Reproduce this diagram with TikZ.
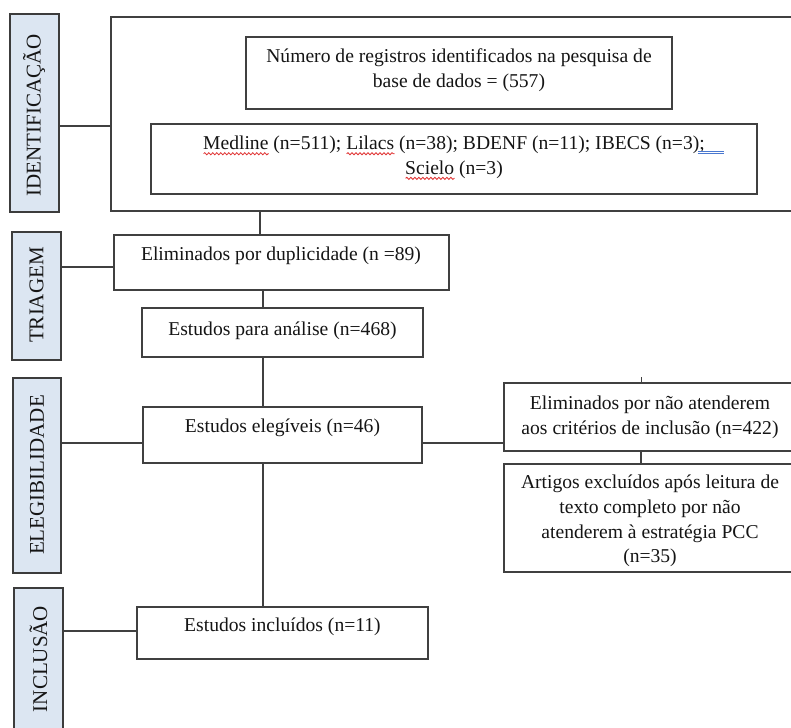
\documentclass[tikz,border=0pt]{standalone}
\usepackage{fontspec}
\setmainfont{Liberation Serif}
\usetikzlibrary{decorations.pathmorphing}
\definecolor{boxgray}{HTML}{404040}
\definecolor{labgray}{HTML}{3C3C3C}
\definecolor{labblue}{HTML}{DCE6F2}
\definecolor{linegray}{HTML}{404040}
\definecolor{ink}{HTML}{151515}
\definecolor{spellred}{HTML}{E03030}
\definecolor{gramblue}{HTML}{4A78D0}
\newsavebox\wavebox
\newcommand\spellwave[1]{\sbox\wavebox{#1}\leavevmode\rlap{\tikz[baseline=0pt]\draw[spellred,line width=0.8pt,decorate,decoration={snake,amplitude=1.1pt,segment length=4pt}] (0pt,-4pt) -- (\the\wd\wavebox,-4pt);}\usebox\wavebox}
\newcommand\grammark{\rlap{\kern-7pt\textcolor{gramblue}{\raisebox{-4.5pt}{\vbox{\hrule width 26pt height 0.8pt\kern1.2pt\hrule width 26pt height 0.8pt}}}}}
\begin{document}
\begin{tikzpicture}[x=1pt,y=-1pt,
  box/.style={draw=boxgray, line width=1.4pt, fill=white, inner sep=0pt},
  stage/.style={draw=labgray, line width=1.4pt, fill=labblue, inner sep=0pt},
  txt/.style={font=\fontsize{19.6}{24.6}\selectfont, text=ink, align=center, inner sep=0pt},
  stagetxt/.style={font=\fontsize{21}{25}\selectfont, text=ink, rotate=90, inner sep=0pt},
  link/.style={draw=linegray, line width=1.4pt}]
\useasboundingbox (0,0) rectangle (791,727);
\clip (0,0) rectangle (791,727);

% stage labels
\node[stage, minimum width=49pt, minimum height=198pt] (idlab) at (34.5,113) {};
\node[stage, minimum width=49pt, minimum height=128pt] (trilab) at (36.5,296) {};
\node[stage, minimum width=48pt, minimum height=195pt] (eleglab) at (37,475.5) {};
\node[stage, minimum width=49pt, minimum height=147pt] (inclab) at (38.5,661.5) {};
\node[stagetxt] (idtxt) at (34,115.5) {IDENTIFICAÇÃO};
\node[stagetxt] (tritxt) at (36.5,295) {TRIAGEM};
\node[stagetxt] (elegtxt) at (37,475) {ELEGIBILIDADE};
\node[stagetxt] (inctxt) at (38.5,659) {INCLUSÃO};

% boxes
\node[box, minimum width=689pt, minimum height=194pt] (outer) at (455.5,114) {};
\node[box, minimum width=426pt, minimum height=72pt] (b1) at (459,73) {};
\node[box, minimum width=606pt, minimum height=70pt] (b2) at (454,159) {};
\node[box, minimum width=335pt, minimum height=55pt] (elim) at (281.5,262.5) {};
\node[box, minimum width=281pt, minimum height=49pt] (analise) at (282.5,332.5) {};
\node[box, minimum width=279pt, minimum height=56pt] (eleg) at (282.5,435) {};
\node[box, minimum width=293pt, minimum height=68pt] (excl1) at (650.5,417) {};
\node[box, minimum width=293pt, minimum height=108pt] (excl2) at (650.5,518) {};
\node[box, minimum width=291pt, minimum height=52pt] (incl) at (282.5,633) {};

% texts
\node[txt] (t1) at (459,70) {Número de registros identificados na pesquisa de\\ base de dados = (557)};
\node[txt] (t2) at (454,158) {\spellwave{Medline} (n=511); \spellwave{Lilacs} (n=38); BDENF (n=11); IBECS (n=3);\grammark\\ \spellwave{Scielo} (n=3)};
\node[txt] (telim) at (281,256) {Eliminados por duplicidade (n =89)};
\node[txt] (tanal) at (282.5,331) {Estudos para análise (n=468)};
\node[txt] (telev) at (282.5,428) {Estudos elegíveis (n=46)};
\node[txt] (tex1) at (650,417) {Eliminados por não atenderem\\ aos critérios de inclusão (n=422)};
\node[txt] (tex2) at (650,521) {Artigos excluídos após leitura de\\ texto completo por não\\ atenderem à estratégia PCC\\ (n=35)};
\node[txt] (tinc) at (282.5,627) {Estudos incluídos (n=11)};

% helper coordinates
\coordinate (trunkA) at (260,0);
\coordinate (trunkB) at (263,0);
\coordinate (tickx) at (641,0);
\coordinate (ticktop) at (641,377);
\path ([yshift=-13pt]idlab.east) coordinate (c1);
\path ([yshift=29pt]trilab.east) coordinate (c2);
\path ([yshift=32.5pt]eleglab.east) coordinate (c3);
\path ([yshift=-8pt]eleg.east) coordinate (c4);
\path ([yshift=30.5pt]inclab.east) coordinate (c5);

% connectors
\draw[link] (c1) -- (c1 -| outer.west);
\draw[link] (outer.south -| trunkA) -- (elim.north -| trunkA);
\draw[link] (c2) -- (c2 -| elim.west);
\draw[link] (elim.south -| trunkB) -- (analise.north -| trunkB);
\draw[link] (analise.south -| trunkB) -- (eleg.north -| trunkB);
\draw[link] (c3) -- (c3 -| eleg.west);
\draw[link] (c4) -- (c4 -| excl1.west);
\draw[link, line width=0.8pt] (ticktop) -- (ticktop |- excl1.north);
\draw[link] (excl1.south -| tickx) -- (excl2.north -| tickx);
\draw[link] (eleg.south -| trunkB) -- (incl.north -| trunkB);
\draw[link] (c5) -- (c5 -| incl.west);
\end{tikzpicture}
\end{document}
